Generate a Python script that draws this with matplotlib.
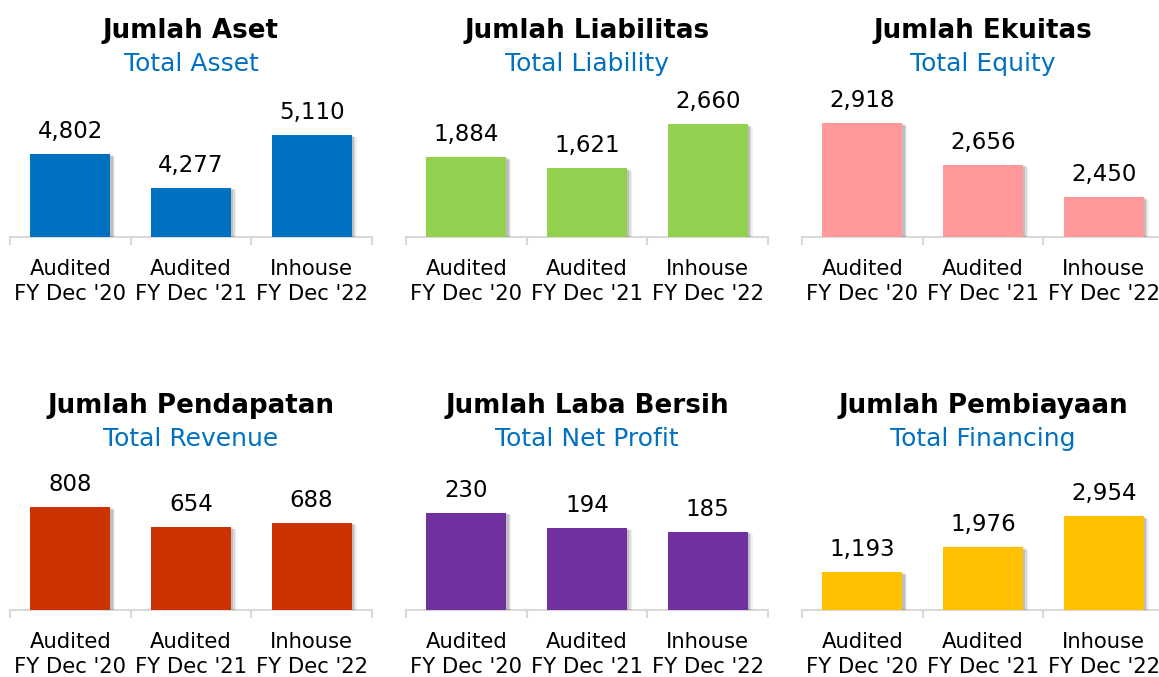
import matplotlib
matplotlib.use("Agg")
import matplotlib.pyplot as plt
import matplotlib.patheffects as pe

categories = ["Audited\nFY Dec '20", "Audited\nFY Dec '21", "Inhouse\nFY Dec '22"]
titles_id = ["Jumlah Aset", "Jumlah Liabilitas", "Jumlah Ekuitas",
             "Jumlah Pendapatan", "Jumlah Laba Bersih", "Jumlah Pembiayaan"]
titles_en = ["Total Asset", "Total Liability", "Total Equity",
             "Total Revenue", "Total Net Profit", "Total Financing"]
total_asset = [4802, 4277, 5110]
total_liability = [1884, 1621, 2660]
total_equity = [2918, 2656, 2450]
total_revenue = [808, 654, 688]
total_net_profit = [230, 194, 185]
total_financing = [1193, 1976, 2954]
series = [total_asset, total_liability, total_equity,
          total_revenue, total_net_profit, total_financing]
colors = ["#0070C0", "#92D050", "#FF9999", "#CC3300", "#7030A0", "#FFC000"]
y_ranges = [(3500, 5500), (0, 3000), (2200, 3000), (0, 1000), (0, 300), (0, 4000)]

plt.rcParams['font.family'] = ['DejaVu Sans']

W, H = 1159, 677
fig = plt.figure(figsize=(W / 100, H / 100), dpi=100)
lefts = [10, 406, 802]
axis_y = [237, 610]
title_base = [38, 413]
sub_base = [71, 446]
plot_h = 127
ax_w = 362

for i, vals in enumerate(series):
    row, col = divmod(i, 3)
    ax = fig.add_axes([lefts[col] / W, 1 - axis_y[row] / H, ax_w / W, plot_h / H])
    x = list(range(len(vals)))
    bars = ax.bar(x, vals, width=0.664, color=colors[i], zorder=3)
    for b in bars:
        b.set_path_effects([
            pe.SimplePatchShadow(offset=(3.5, -1.8), shadow_rgbFace='k', alpha=0.06),
            pe.SimplePatchShadow(offset=(2.6, -1.3), shadow_rgbFace='k', alpha=0.09),
            pe.SimplePatchShadow(offset=(1.6, -0.8), shadow_rgbFace='k', alpha=0.12),
            pe.Normal()])
    for xi, v in zip(x, vals):
        ax.annotate(f"{v:,}", (xi, v), xytext=(0, 11.5), textcoords='offset points',
                    ha='center', va='baseline', fontsize=16.5, color='black')
    ax.set_xlim(-0.5, 2.5)
    ax.set_ylim(*y_ranges[i])
    ax.set_yticks([])
    for s in ['top', 'left', 'right']:
        ax.spines[s].set_visible(False)
    ax.spines['bottom'].set_color('#D9D9D9')
    ax.spines['bottom'].set_linewidth(1.5)
    ax.set_xticks(x)
    ax.set_xticklabels(categories, fontsize=15.2, linespacing=1.32)
    ax.set_xticks([-0.5, 0.5, 1.5, 2.5], minor=True)
    ax.tick_params(axis='x', which='major', length=0, pad=16)
    ax.tick_params(axis='x', which='minor', length=6, width=1.5, color='#D9D9D9',
                   direction='out')
    ax.patch.set_alpha(0)
    cx = (lefts[col] + ax_w / 2) / W
    fig.text(cx, 1 - title_base[row] / H, titles_id[i], ha='center', va='baseline',
             fontsize=18.8, fontweight='bold', color='black')
    fig.text(cx, 1 - sub_base[row] / H, titles_en[i], ha='center', va='baseline',
             fontsize=18, color='#0070C0')

fig.savefig('out.png', dpi=100, facecolor='white')
